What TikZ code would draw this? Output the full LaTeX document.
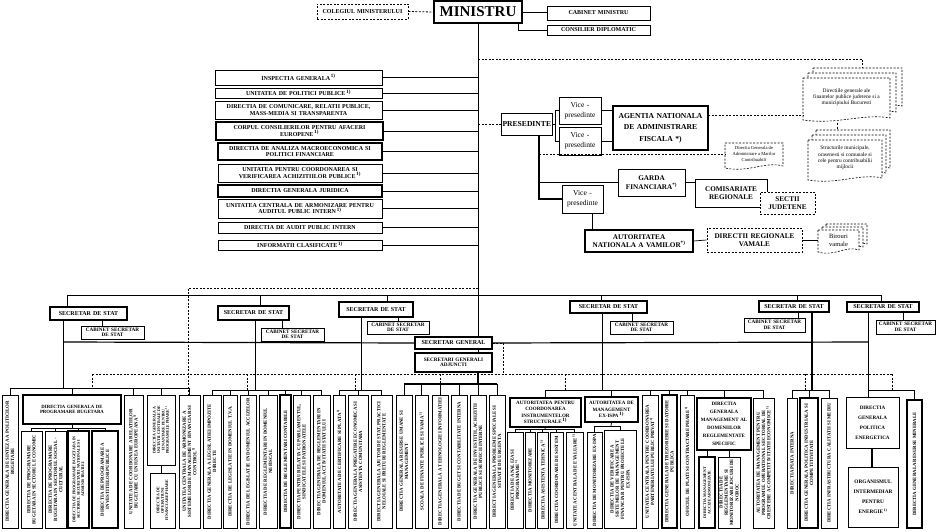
\documentclass[tikz,border=0pt]{standalone}
\usepackage{fontspec}
\setmainfont{Liberation Serif}
\usepackage{graphicx}
\usetikzlibrary{calc}
\hyphenpenalty=10000
\exhyphenpenalty=10000

% box by its corners: [style]{name}{x1}{y1}{x2}{y2}{text}
\newcommand{\orgbox}[7][]{%
  \node[unit,#1,minimum width={(#5-#3)*1pt},minimum height={(#6-#4)*1pt},
    text width={(#5-#3-3)*1pt}] (#2) at ({(#3+#5)/2},{(#4+#6)/2}) {#7};}
% upright box, text turned
\newcommand{\orgvbox}[7][]{%
  \node[unit,sz4,#1,minimum width={(#5-#3)*1pt},minimum height={(#6-#4)*1pt}]
    (#2) at ({(#3+#5)/2},{(#4+#6)/2})
    {\rotatebox{90}{\parbox{\dimexpr #6pt-#4pt-4pt\relax}{\centering #7}}};}
% sheet with wavy lower edge
\newcommand{\wavesheet}[5][]{%
  \draw[sheetline,#1] (#2,#3) -- (#4,#3) -- (#4,#5)
    .. controls ({#4-(#4-#2)*0.3},{#5-5}) and ({#2+(#4-#2)*0.4},{#5+7}) .. (#2,{#5+2}) -- cycle;}
\newcommand{\fnote}{\textsuperscript{\,1)}}

\begin{document}
\begin{tikzpicture}[x=1pt,y=-1pt,
  unit/.style={draw,line width=0.7pt,fill=white,align=center,inner sep=1pt,sz5},
  sz3/.style={font=\bfseries\fontsize{4.0}{4.4}\selectfont},
  sz4/.style={font=\bfseries\fontsize{4.8}{5.3}\selectfont},
  szc/.style={font=\bfseries\fontsize{5.2}{5.5}\selectfont},
  sz5/.style={font=\bfseries\fontsize{6}{6.6}\selectfont},
  sz6/.style={font=\bfseries\fontsize{7.2}{8.6}\selectfont},
  sz7/.style={font=\bfseries\fontsize{7.6}{11.5}\selectfont},
  regtext/.style={font=\fontsize{7.5}{10}\selectfont},
  heavy/.style={line width=1.2pt},
  dots/.style={line width=0.8pt,dash pattern=on 2pt off 1.5pt},
  link/.style={line width=0.7pt},
  sheetline/.style={dots,line width=0.6pt,fill=white},
  sheettext/.style={align=center,inner sep=0pt,font=\fontsize{5.4}{6.2}\selectfont}
]
\fill[white] (0,0) rectangle (944,532);
\useasboundingbox (0,0) rectangle (944,532);

% ---------------- top
\orgbox[dots]{colegiu}{317}{4}{408}{19}{COLEGIUL MINISTERULUI}
\orgbox[heavy,font=\bfseries\fontsize{15}{15}\selectfont]{ministru}{434}{1}{522}{23}{MINISTRU}
\orgbox{cabmin}{547}{6}{650}{20}{CABINET MINISTRU}
\orgbox{consilier}{547}{25}{650}{35}{CONSILIER DIPLOMATIC}
\draw[dots] (colegiu.east) -- (ministru.west);
\draw[link] (ministru.east) -- (ministru.east -| cabmin.west);
\draw[link] ([xshift=-4pt]ministru.south east) |- (consilier.west);

\coordinate (spine) at (478,295);
\draw[link] (ministru.south) -- (spine);

% ---------------- staff units
\orgbox{inspectia}{215}{70}{382}{85}{INSPECTIA GENERALA\fnote}
\orgbox{upp}{215}{88}{382}{98}{UNITATEA DE POLITICI PUBLICE\fnote}
\orgbox{comunicare}{215}{101}{382}{119}{DIRECTIA DE COMUNICARE, RELATII PUBLICE,\\MASS-MEDIA SI TRANSPARENTA}
\orgbox[heavy]{corpul}{216}{122}{383}{140}{CORPUL CONSILIERILOR PENTRU AFACERI\\EUROPENE\fnote}
\orgbox[heavy]{analiza}{218}{143}{382}{160}{DIRECTIA DE ANALIZA MACROECONOMICA SI\\POLITICI FINANCIARE}
\orgbox{achizitii}{218}{164}{382}{182}{UNITATEA PENTRU COORDONAREA SI\\VERIFICAREA ACHIZITIILOR PUBLICE\fnote}
\orgbox[heavy]{juridica}{218}{185}{382}{197}{DIRECTIA GENERALA JURIDICA}
\orgbox{armonizare}{218}{199}{382}{218}{UNITATEA CENTRALA DE ARMONIZARE PENTRU\\AUDITUL PUBLIC INTERN\fnote}
\orgbox{audit}{218}{222}{382}{233}{DIRECTIA DE AUDIT PUBLIC INTERN}
\orgbox{informatii}{218}{240}{382}{250}{INFORMATII CLASIFICATE\fnote}
\foreach \b in {inspectia,upp,comunicare,corpul,analiza,achizitii,juridica,armonizare,audit,informatii}
  \draw[link] (\b.east) -- (\b.east -| spine);

% ---------------- agencies
\orgbox[sz7]{pres}{501}{113}{552}{135}{PRESEDINTE}
\orgbox[regtext]{vice1}{559}{97}{601}{124}{Vice -\\presedinte}
\orgbox[regtext]{vice2}{559}{127}{601}{155}{Vice -\\presedinte}
\orgbox[sz7,heavy]{anaf}{613}{106}{708}{150}{AGENTIA NATIONALA\\DE ADMINISTRARE\\FISCALA *)}
\draw[dots] (pres.west -| spine) -- (pres.west);
\draw[link] (pres.east) -- ++(3,0) coordinate (pj);
\draw[link] (vice1.west) -| (pj) |- (vice2.west);
\draw[link] (vice1.east) -- (vice1.east -| anaf.west);
\draw[link] (vice2.east) -- (vice2.east -| anaf.west);

\orgbox[sz6]{garda}{618}{169}{685}{196}{GARDA\\FINANCIARA\textsuperscript{*)}}
\orgbox[regtext]{vice3}{562}{185}{603}{213}{Vice -\\presedinte}
\orgbox[sz6]{comis}{695}{179}{767}{207}{COMISARIATE\\REGIONALE}
\orgbox[sz6,dots]{sectii}{760}{192}{815}{214}{SECTII\\JUDETENE}
\orgbox[sz6,heavy]{vamilor}{585}{230}{693}{252}{AUTORITATEA\\NATIONALA A VAMILOR\textsuperscript{*)}}
\orgbox[sz6,dots]{drv}{707}{228}{802}{252}{DIRECTII REGIONALE\\VAMALE}
\coordinate (pv) at (539,199);
\draw[heavy] (pres.south -| pv) -- (pv) -- (vice3.west);
\draw[heavy] (pv |- garda.west) -- (garda.west);
\draw[link] (garda.east) -- (garda.east -| comis.west);
\draw[link] ([xshift=10pt]vice3.south) -- ([xshift=10pt]vice3.south |- vamilor.north);
\draw[link] (vamilor.east) -- (drv.west);

% sheets
\wavesheet{813}{68}{902}{106}
\wavesheet{808}{73}{896}{112}
\wavesheet{803}{78}{890}{118}
\node[sheettext,minimum width=87pt,minimum height=36pt] (directiile) at (846.5,97)
  {Directiile generale ale\\finantelor publice judetene si a\\municipiului Bucuresti};
\wavesheet{816}{130}{890}{168}
\wavesheet{812}{135}{886}{173}
\wavesheet{808}{140}{882}{178}
\node[sheettext,minimum width=74pt,minimum height=36pt] (structurile) at (845,158)
  {Structurile municipale,\\orasenesti si comunale si\\cele pentru contribuabilii\\mijlocii};
\wavesheet{725}{143}{783}{166}
\node[sheettext,font=\fontsize{4.6}{5.6}\selectfont,minimum width=58pt,minimum height=22pt] (marilor) at (754,154)
  {Directia Generala de\\Administrare a Marilor\\Contribuabili};
\wavesheet{826}{224}{867}{244}
\wavesheet{822}{227}{863}{247}
\wavesheet{818}{230}{859}{250}
\node[sheettext,font=\fontsize{6.5}{8}\selectfont,minimum width=41pt,minimum height=18pt] (birouri) at (838.5,240)
  {Birouri\\vamale};
\draw[link] (drv.east) -- (drv.east -| birouri.west);

\coordinate (topturn) at (862,59);
\draw[dots] (spine |- topturn) -- (topturn) -- ++(0,9);
\coordinate (anafout) at (708,115);
\draw[dots] (anafout) -- (anafout -| directiile.west);
\draw[dots] (837,123) -- (837,130);
\draw[dots] (pv |- marilor.west) -- (marilor.west);

% ---------------- secretaries of state
\orgbox[heavy]{ss1}{50}{307}{127}{320}{SECRETAR DE STAT}
\orgbox[szc]{cab1}{81}{326}{144}{339}{CABINET SECRETAR\\DE STAT}
\orgbox[heavy]{ss2}{218}{306}{289}{320}{SECRETAR DE STAT}
\orgbox[szc]{cab2}{261}{328}{324}{341}{CABINET SECRETAR\\DE STAT}
\orgbox[heavy]{ss3}{339}{302}{413}{317}{SECRETAR DE STAT}
\orgbox[szc]{cab3}{367}{321}{429}{334}{CABINET SECRETAR\\DE STAT}
\orgbox[heavy]{sg}{415}{337}{492}{349}{SECRETAR GENERAL}
\orgbox[szc,heavy]{sga}{415}{353}{492}{372}{SECRETARI GENERALI\\ADJUNCTI}
\orgbox[heavy]{ss4}{570}{301}{647}{313}{SECRETAR DE STAT}
\orgbox[szc]{cab4}{610}{321}{673}{334}{CABINET SECRETAR\\DE STAT}
\orgbox[heavy]{ss5}{759}{301}{829}{312}{SECRETAR DE STAT}
\orgbox[szc]{cab5}{744}{318}{805}{332}{CABINET SECRETAR\\DE STAT}
\orgbox[heavy]{ss6}{847}{302}{919}{312}{SECRETAR DE STAT}
\orgbox[szc]{cab6}{876}{320}{935}{334}{CABINET SECRETAR\\DE STAT}

\draw[link] (67,295) -- (881,295);
\foreach \n/\x in {ss1/67,ss2/260,ss3/387,ss4/601,ss5/797,ss6/881}
  \draw[link] (\n.north -| \x,0) -- (\x,295);
\foreach \n/\s/\x in {cab1/ss1/102,cab2/ss2/282,cab3/ss3/398,cab4/ss4/632,cab5/ss5/798,cab6/ss6/903}
  \draw[link] (\n.north -| \x,0) -- (\s.south -| \x,0);
\draw[link] (spine) -- (spine |- sg.north);
\draw[link] (spine |- sg.south) -- (spine |- sga.north);
\draw[heavy] (63,342) -- (sg.west);
\draw[heavy] (sg.east) -- (868,342);

% ---------------- directorates
% secretar de stat 1
\orgvbox{sinteza}{2}{395}{18}{528}{DIRECTIA GENERALA DE SINTEZA A POLITICILOR BUGETARE}
\orgbox[sz4,heavy]{dgpb}{23}{395}{121}{424}{DIRECTIA GENERALA DE\\PROGRAMARE BUGETARA}
\orgvbox{pbec}{21}{431}{42}{528}{DIRECTIA DE PROGRAMARE BUGETARA IN SECTORUL ECONOMIC}
\orgvbox{pbsc}{45}{431}{66}{528}{DIRECTIA DE PROGRAMARE BUGETARA IN SECTORUL SOCIAL - CULTURAL}
\orgvbox[heavy,sz3]{pbsn}{68}{431}{89}{528}{DIRECTIA DE PROGRAMARE BUGETARA IN SECTORUL SECURITATII NATIONALE SI ADMINISTRATIEI}
\orgvbox[heavy]{pbip}{92}{431}{118}{528}{DIRECTIA DE PROGRAMARE A INVESTITIILOR PUBLICE}
\orgvbox{ucrbue}{124}{395}{143}{528}{UNITATEA DE COORDONARE A RELATIILOR BUGETARE CU UNIUNEA EUROPEANA\fnote}
\orgvbox[sz3]{ucfp}{147}{395}{175}{465}{DIRECTIA GENERALA A UNITATII CENTRALE DE FINANTARE PENTRU PROGRAMELE PHARE\fnote}
\orgvbox[sz3]{dfp}{150}{473}{175}{528}{DIRECTIA DE OPERATIUNI FINANCIARE PHARE}
\orgvbox{ucamfc}{179}{395}{200}{528}{UNITATEA CENTRALA DE ARMONIZARE A SISTEMELOR DE MANAGEMENT FINANCIAR SI CONTROL\fnote}
\coordinate (g1) at (63,388);
\draw[link] (ss1.south -| g1) -- (g1);
\draw[link] (sinteza.north |- g1) -- (ucamfc.north |- g1);
\foreach \b in {sinteza,dgpb,ucrbue,ucfp,ucamfc}
  \draw[link] (\b.north |- g1) -- (\b.north);
\draw[link] (ucfp.south) -- (ucfp.south |- dfp.north);
\coordinate (g1b) at (72,428);
\draw[link] (dgpb.south) -- (dgpb.south |- g1b);
\draw[link] (pbec.north |- g1b) -- (pbip.north |- g1b);
\foreach \b in {pbec,pbsc,pbsn,pbip}
  \draw[link] (\b.north |- g1b) -- (\b.north);

% secretar de stat 2
\orgvbox{dglid}{203}{395}{221}{528}{DIRECTIA GENERALA A LEGISLATIEI IMPOZITE DIRECTE}
\orgvbox{dltva}{223}{395}{237}{528}{DIRECTIA DE LEGISLATIE IN DOMENIUL T.V.A.}
\orgvbox{dlacc}{240}{395}{256}{528}{DIRECTIA DE LEGISLATIE IN DOMENIUL ACCIZELOR}
\orgvbox{drnf}{259}{395}{277}{528}{DIRECTIA DE REGLEMENTARI IN DOMENIUL NEFISCAL}
\orgvbox[heavy]{drc}{280}{395}{291}{528}{DIRECTIA DE REGLEMENTARI CONTABILE}
\orgvbox{drp}{293}{395}{310}{528}{DIRECTIA PENTRU RELATIA CU PARLAMENTUL, SINDICATELE SI PATRONATELE}
\orgvbox{dgras}{313}{395}{330}{528}{DIRECTIA GENERALA DE REGLEMENTARI IN DOMENIUL ACTIVITATII STATULUI}
\coordinate (g2) at (255,390);
\draw[link] (ss2.south -| g2) -- (g2);
\draw[link] (dglid.north |- g2) -- (dgras.north |- g2);
\foreach \b in {dglid,dltva,dlacc,drnf,drc,drp,dgras}
  \draw[link] (\b.north |- g2) -- (\b.north);

% secretar de stat 3
\orgvbox{acp}{333}{395}{345}{528}{AUTORITATEA DE CERTIFICARE SI PLATA\fnote}
\orgvbox{dgpeac}{348}{395}{368}{528}{DIRECTIA GENERALA PREGATIRE ECONOMICA SI ASISTENTA COMUNITARA}
\orgvbox{dgas}{371}{395}{392}{528}{DIRECTIA GENERALA AJUTOR DE STAT, PRACTICI NELOIALE SI PRETURI REGLEMENTATE}
\coordinate (g3) at (361,390);
\draw[link] (ss3.south -| g3) -- (g3);
\draw[link] (acp.north |- g3) -- (dgas.north |- g3);
\foreach \b in {acp,dgpeac,dgas}
  \draw[link] (\b.north |- g3) -- (\b.north);

% secretari generali adjuncti
\orgvbox{dgrum}{396}{395}{412}{528}{DIRECTIA GENERALA RESURSE UMANE SI MANAGEMENT}
\orgvbox{sfpv}{415}{395}{428}{528}{SCOALA DE FINANTE PUBLICE SI VAMA\fnote}
\orgvbox{dgti}{432}{395}{448}{528}{DIRECTIA GENERALA A TEHNOLOGIEI INFORMATIEI}
\orgvbox{dbci}{451}{395}{467}{528}{DIRECTIA DE BUGET SI CONTABILITATE INTERNA}
\orgvbox{dgia}{470}{395}{486}{528}{DIRECTIA GENERALA DE INVESTITII, ACHIZITII PUBLICE SI SERVICII INTERNE}
\orgvbox{dgps}{489}{395}{505}{528}{DIRECTIA GENERALA PROBLEME SPECIALE SI SITUATII DE URGENTA}
\coordinate (g4) at (478,384);
\draw[heavy] (spine |- sga.south) -- (g4);
\draw[heavy] (dgrum.north |- g4) -- (dgps.north |- g4);
\foreach \b in {dgrum,sfpv,dgti,dbci,dgia,dgps}
  \draw[link] (\b.north |- g4) -- (\b.north);

% secretar de stat 4
\orgbox[heavy,font=\bfseries\fontsize{5}{6.3}\selectfont]{acis}{510}{398}{581}{427}{AUTORITATEA PENTRU\\COORDONAREA\\INSTRUMENTELOR\\STRUCTURALE\fnote}
\orgvbox{dap}{507}{432}{523}{528}{DIRECTIA DE ANALIZA SI PROGRAMARE\fnote}
\orgvbox{dmon}{525}{432}{535}{528}{DIRECTIA MONITORIZARE}
\orgvbox{dat}{537}{432}{548}{528}{DIRECTIA ASISTENTA TEHNICA\fnote}
\orgvbox{dcs}{550}{432}{563}{528}{DIRECTIA COORDONARE DE SISTEM}
\orgvbox{uce}{566}{432}{583}{528}{UNITATEA CENTRALA DE EVALUARE\fnote}
\orgbox[heavy,font=\bfseries\fontsize{5}{6.3}\selectfont]{amispa}{585}{397}{638}{422}{AUTORITATEA DE\\MANAGEMENT\\EX-ISPA\fnote}
\orgvbox{dmispa}{587}{432}{602}{528}{DIRECTIA DE MONITORIZARE EX-ISPA}
\orgvbox{dvispa}{604}{430}{636}{528}{DIRECTIA DE VERIFICARE A SISTEMELOR DE MANAGEMENT FINANCIAR PENTRU PROIECTELE EX-ISPA}
\orgvbox{ucppp}{642}{395}{658}{528}{UNITATEA CENTRALA PENTRU COORDONAREA PARTENERIATULUI PUBLIC PRIVAT\fnote}
\orgvbox[heavy]{dgtdp}{662}{395}{677}{528}{DIRECTIA GENERALA DE TREZORERIE SI DATORIE PUBLICA}
\orgvbox{opcp}{680}{395}{694}{528}{OFICIUL DE PLATI SI CONTRACTARE PHARE\fnote}
\orgbox[heavy,font=\bfseries\fontsize{5}{8}\selectfont]{dgmd}{697}{398}{751}{450}{DIRECTIA\\GENERALA\\MANAGEMENT AL\\DOMENIILOR\\REGLEMENTATE\\SPECIFIC}
\orgvbox[heavy,sz3]{dmaa}{699}{457}{715}{528}{DIRECTIA MANAGEMENT ACCIZE ARMONIZATE}
\orgvbox{drjn}{718}{457}{740}{528}{DIRECTIA DE REGLEMENTARE SI MONITORIZARE JOCURI DE NOROC}
\orgvbox{ampos}{753}{398}{774}{528}{AUTORITATEA DE MANAGEMENT PENTRU PROGRAMUL OPERATIONAL SECTORIAL DE CRESTERE A COMPETITIVITATII ECONOMICE\fnote}
\coordinate (g5) at (602,390);
\draw[link] (ss4.south -| g5) -- (g5);
\draw[link] (acis.north |- g5) -- (ampos.north |- g5);
\foreach \b in {acis,amispa,ucppp,dgtdp,opcp,dgmd,ampos}
  \draw[link] (\b.north |- g5) -- (\b.north);
\coordinate (g5a) at (545,429);
\draw[link] (acis.south) -- (g5a);
\draw[link] (dap.north |- g5a) -- (uce.north |- g5a);
\foreach \b in {dap,dmon,dat,dcs,uce}
  \draw[link] (\b.north |- g5a) -- (\b.north);
\coordinate (g5b) at (611,426);
\draw[link] (amispa.south) -- (g5b);
\draw[link] (dmispa.north |- g5b) -- (dvispa.north |- g5b);
\foreach \b in {dmispa,dvispa}
  \draw[link] (\b.north |- g5b) -- (\b.north);
\foreach \b in {dmaa,drjn}
  \draw[link] (\b.north) -- (\b.north |- dgmd.south);

% secretar de stat 5
\orgvbox{dpi}{787}{398}{797}{528}{DIRECTIA PIATA INTERNA}
\orgvbox[heavy]{dgpic}{800}{398}{818}{528}{DIRECTIA GENERALA POLITICA INDUSTRIALA SI COMPETITIVITATE}
\orgvbox{dica}{821}{398}{837}{528}{DIRECTIA INFRASTRUCTURA CALITATII SI MEDIU}
\coordinate (g6) at (812,390);
\draw[heavy] (ss5.south -| g6) -- (g6);
\draw[link] (dpi.north |- g6) -- (dica.north |- g6);
\foreach \b in {dpi,dgpic,dica}
  \draw[link] (\b.north |- g6) -- (\b.north);

% secretar de stat 6
\orgbox[font=\bfseries\fontsize{5.1}{10}\selectfont]{dgpe}{846}{397}{899}{448}{DIRECTIA\\GENERALA\\POLITICA\\ENERGETICA}
\orgbox[font=\bfseries\fontsize{5.3}{10}\selectfont]{oie}{848}{467}{898}{527}{ORGANISMUL\\INTERMEDIAR\\PENTRU\\ENERGIE\fnote}
\orgvbox[heavy]{dgrm}{907}{400}{922}{528}{DIRECTIA GENERALA RESURSE MINERALE}
\coordinate (g7) at (868,390);
\draw[link] (ss6.south -| g7) -- (g7 |- dgpe.north);
\draw[link] (g7) -- (g7 -| dgrm.north) -- (dgrm.north);
\draw[heavy] (dgpe.south -| 872,0) -- (oie.north -| 872,0);

% ---------------- dotted coordination lines
\coordinate (dtop) at (188,288);
\draw[dots] (spine |- dtop) -- (dtop) -- (dtop |- ucamfc.north);
\coordinate (dbus) at (92,374);
\draw[dots] (dbus) -- (892,374);
\draw[dots] (sg.east) -- (503,343) -- (503,374);
\foreach \x/\y in {92/388,247/390,355/390,440/384,565/390,805/390,892/390}
  \draw[dots] (\x,374) -- (\x,\y);
\end{tikzpicture}
\end{document}
